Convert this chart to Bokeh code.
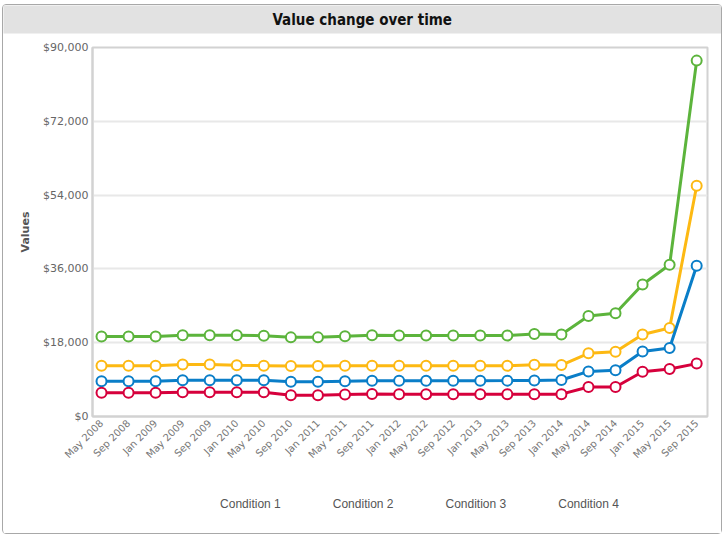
from bokeh.plotting import figure
from bokeh.models import (Range1d, FixedTicker, NumeralTickFormatter, Legend, LegendItem, Title)
from bokeh.layouts import column
from bokeh.embed import file_html
from bokeh.resources import INLINE
import math

title_text = "Value change over time"
dates = ["May 2008", "Sep 2008", "Jan 2009", "May 2009", "Sep 2009", "Jan 2010",
         "May 2010", "Sep 2010", "Jan 2011", "May 2011", "Sep 2011", "Jan 2012",
         "May 2012", "Sep 2012", "Jan 2013", "May 2013", "Sep 2013", "Jan 2014",
         "May 2014", "Sep 2014", "Jan 2015", "May 2015", "Sep 2015"]
cond1 = [19500, 19500, 19500, 19800, 19800, 19800, 19700, 19300, 19300, 19600, 19800, 19750,
         19750, 19750, 19750, 19750, 20100, 20000, 24500, 25200, 32200, 37000, 86800]
cond2 = [12400, 12400, 12400, 12700, 12700, 12500, 12400, 12300, 12300, 12400, 12400, 12350,
         12350, 12350, 12350, 12350, 12600, 12550, 15400, 15800, 20000, 21600, 56300]
cond3 = [8600, 8600, 8600, 8850, 8850, 8850, 8850, 8450, 8450, 8600, 8700, 8700,
         8700, 8700, 8700, 8750, 8800, 8900, 11000, 11300, 15850, 16700, 36750]
cond4 = [5770, 5770, 5770, 5900, 5900, 5900, 5900, 5200, 5200, 5350, 5500, 5450,
         5450, 5450, 5450, 5450, 5450, 5450, 7200, 7200, 10900, 11600, 12900]
series_names = ["Condition 1", "Condition 2", "Condition 3", "Condition 4"]
series_colors = ["#5cb43c", "#fdb913", "#0a7ec8", "#d6003c"]
y_ticks = [0, 18000, 36000, 54000, 72000, 90000]

xs = list(range(len(dates)))
p = figure(frame_width=615, frame_height=369,
           x_range=Range1d(-0.333, 22.4), y_range=Range1d(0, 90000),
           output_backend="svg", toolbar_location=None,
           min_border_left=89, min_border_right=14, min_border_top=42, min_border_bottom=54)
p.outline_line_color = "#d2d2d2"
p.outline_line_width = 2
p.background_fill_color = "white"
p.border_fill_color = "white"

# spacer between the title band and the plot frame (nearest the frame)
p.add_layout(Title(text=" ", text_font_size="5px", standoff=4, text_color="white"), "above")
# title band (outermost)
p.title = Title(text=title_text, align="left", offset=-89, standoff=0, vertical_align="top",
                text_font="DejaVu Sans Condensed", text_font_style="bold",
                text_font_size="15px", text_color="#111111",
                background_fill_color="#e2e2e2", padding=(269, 5))

p.xgrid.visible = False
p.ygrid.grid_line_color = "#e8e8e8"
p.ygrid.grid_line_width = 2

p.yaxis.ticker = FixedTicker(ticks=y_ticks)
p.yaxis.formatter = NumeralTickFormatter(format="$0,0")
p.xaxis.ticker = FixedTicker(ticks=xs)
p.xaxis.major_label_overrides = {i: d for i, d in enumerate(dates)}
p.xaxis.major_label_orientation = math.pi / 4
for ax in [p.xaxis[0], p.yaxis[0]]:
    ax.axis_line_color = "#d2d2d2"
    ax.axis_line_width = 2
    ax.major_tick_line_color = None
    ax.minor_tick_line_color = None
    ax.major_tick_out = 0
    ax.major_tick_in = 0
    ax.major_label_text_font = "DejaVu Sans"
    ax.major_label_text_font_size = "11px"
    ax.major_label_text_color = "#666666"
p.xaxis.major_label_text_font_size = "10px"
p.xaxis.major_label_text_color = "#777777"
p.xaxis.major_label_standoff = 5
p.yaxis.major_label_standoff = 4
p.yaxis.axis_label = "Values"
p.yaxis.axis_label_text_font = "DejaVu Sans"
p.yaxis.axis_label_text_font_size = "11px"
p.yaxis.axis_label_text_font_style = "bold"
p.yaxis.axis_label_text_color = "#555555"
p.yaxis.axis_label_standoff = 8

for name, vals, col in zip(series_names, [cond1, cond2, cond3, cond4], series_colors):
    p.line(xs, vals, line_color=col, line_width=3)
    p.scatter(xs, vals, marker="circle", size=10, fill_color="white",
              line_color=col, line_width=2)

# ---- legend strip below the chart (its own small figure, legend inside its frame) ----
lf = figure(frame_width=615, frame_height=63, x_range=Range1d(0, 1), y_range=Range1d(0, 1),
            output_backend="svg", toolbar_location=None,
            x_axis_location=None, y_axis_location=None,
            min_border_left=89, min_border_right=14, min_border_top=0, min_border_bottom=0)
lf.grid.visible = False
lf.outline_line_color = None
lf.background_fill_color = "white"
lf.border_fill_color = "white"
items = []
for name, col in zip(series_names, series_colors):
    ln = lf.line([], [], line_color=col, line_width=3)
    sc = lf.scatter([], [], marker="circle", size=10, fill_color="white",
                    line_color=col, line_width=2)
    items.append(LegendItem(label=name, renderers=[ln, sc]))
legend = Legend(items=items, orientation="horizontal", location="bottom_center",
                border_line_color=None, background_fill_alpha=0,
                label_text_font="Liberation Sans", label_text_font_size="12px",
                label_text_color="#555555", glyph_width=26, glyph_height=14,
                label_standoff=14, spacing=12, padding=6, margin=22)
lf.add_layout(legend)

layout = column(p, lf, spacing=0,
                styles={"border": "1px solid #a8a8a8", "border-radius": "4px",
                        "margin-left": "2px", "margin-top": "4px"})

open("out.html", "w").write(file_html(layout, INLINE))
